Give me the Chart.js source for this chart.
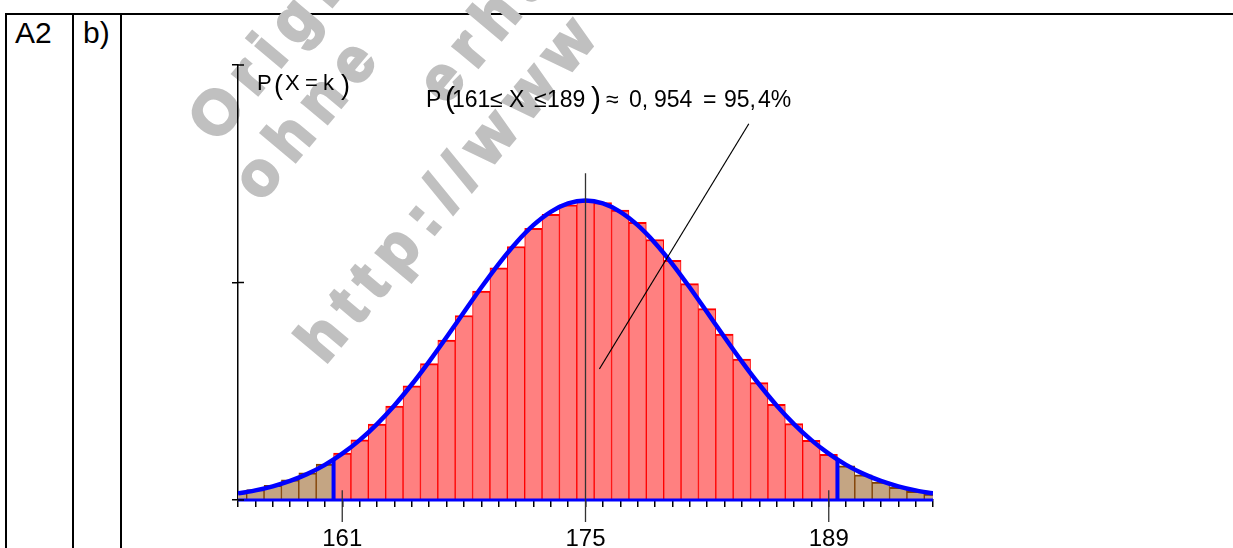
<!DOCTYPE html>
<html>
<head>
<meta charset="utf-8">
<script src="https://cdn.jsdelivr.net/npm/chart.js@4/dist/chart.umd.min.js"></script>
<style>
body { margin: 0; background: #fff; width: 1233px; height: 548px; overflow: hidden; position: relative; font-family: Arial, "Liberation Sans", sans-serif; }
.rule { position: absolute; background: #000; }
.cell { position: absolute; font-size: 30px; line-height: 30px; color: #000; }
.tok { position: absolute; white-space: nowrap; color: #000; }
.wm { position: absolute; white-space: nowrap; color: #c0c0c0; font-weight: bold; letter-spacing: 12px; -webkit-text-stroke: 3px #c0c0c0; }
#chart { position: absolute; left: 0; top: 0; }
</style>
</head>
<body>

<div class="rule" style="left:5px;top:13px;width:1228px;height:2px"></div>
<div class="rule" style="left:5px;top:13px;width:2px;height:535px"></div>
<div class="rule" style="left:72px;top:13px;width:2px;height:535px"></div>
<div class="rule" style="left:120px;top:13px;width:2px;height:535px"></div>
<div class="cell" style="left:15px;top:18px">A2</div>
<div class="cell" style="left:83px;top:18px">b)</div>

<div id="marks"></div>
<canvas id="chart" width="1233" height="548"></canvas>
<div id="labels"></div>

<script>
// binomial distribution, values
const ks = [155, 156, 157, 158, 159, 160, 161, 162, 163, 164, 165, 166, 167, 168, 169, 170, 171, 172, 173, 174,
    175, 176, 177, 178, 179, 180, 181, 182, 183, 184, 185, 186, 187, 188, 189, 190, 191, 192, 193, 194, 195];

const probs = [0.00136, 0.00193, 0.00269, 0.00369, 0.00499, 0.00662, 0.00863, 0.01107, 0.01394, 0.01726,
    0.02099, 0.02508, 0.02943, 0.03393, 0.03841, 0.04270, 0.04662, 0.04996, 0.05256, 0.05427,
    0.05499, 0.05468, 0.05334, 0.05105, 0.04791, 0.04409, 0.03979, 0.03520, 0.03052, 0.02593,
    0.02158, 0.01760, 0.01406, 0.01099, 0.00841, 0.00630, 0.00462, 0.00331, 0.00232, 0.00159, 0.00107];

// bell curve drawn over the bars
const curve = [0.00122, 0.00177, 0.00252, 0.00351, 0.00481, 0.00646, 0.00852, 0.01101, 0.01397, 0.01739,
    0.02124, 0.02546, 0.02993, 0.03453, 0.03908, 0.04340, 0.04728, 0.05054, 0.05300, 0.05454,
    0.05506, 0.05454, 0.05300, 0.05054, 0.04728, 0.04340, 0.03908, 0.03453, 0.02993, 0.02546,
    0.02124, 0.01739, 0.01397, 0.01101, 0.00852, 0.00646, 0.00481, 0.00351, 0.00252, 0.00177, 0.00122];

const lowK = 161;
const highK = 189;
const cutX = [160.5, 189.5];
const cutTop = [0.00744, 0.00744];

const markTicks = [161, 175, 189];
const markTops = [0.0018, 0.0601, 0.0018];
const yTicks = [0, 0.04, 0.08];

const pointerX = [175.8, 184.4];
const pointerY = [0.0241, 0.0692];

const inside = k => k >= lowK && k <= highK;

// text tokens: [text, left, baseline, size]
const labelTokens = [
    ["P", 257, 91, 22], ["(", 274, 95, 27], ["X", 285, 91, 22], ["=", 305, 91, 22], ["k", 323, 91, 22], [")", 341, 95, 27],
    ["P", 426, 107, 23], ["(", 445, 108.7, 30], ["161", 452, 107, 23], ["\u2264", 490, 107, 23], ["X", 509, 107, 23],
    ["\u2264", 534, 107, 23], ["189", 547, 107, 23], [")", 591, 108.7, 30], ["\u2248", 606, 107, 23],
    ["0,", 629, 107, 23], ["954", 654, 107, 23], ["=", 703, 107, 23], ["95,", 724, 107, 23], ["4%", 758, 107, 23]
];

// watermark lines: [text, left, baseline, size]
const watermark = [
    ["Original", 217, 144, 62],
    ["ohne", 261, 203, 62],
    ["erhältlich", 446, 106, 62],
    ["http://www", 325, 365, 62]
];

function placeTokens() {

    const box = document.getElementById("labels");

    labelTokens.forEach(t => {

        const d = document.createElement("div");
        d.className = "tok";
        d.textContent = t[0];
        d.style.fontSize = t[3] + "px";
        d.style.lineHeight = t[3] + "px";
        d.style.left = t[1] + "px";
        d.style.top = (t[2] - 0.8465 * t[3]) + "px";
        box.appendChild(d);

    });

    const marks = document.getElementById("marks");

    watermark.forEach(t => {

        const d = document.createElement("div");
        const asc = 0.8465 * t[3];
        d.className = "wm";
        d.textContent = t[0];
        d.style.fontSize = t[3] + "px";
        d.style.lineHeight = t[3] + "px";
        d.style.left = t[1] + "px";
        d.style.top = (t[2] - asc) + "px";
        d.style.transformOrigin = "0 " + asc + "px";
        d.style.transform = "rotate(-50deg)";
        marks.appendChild(d);

    });

}

placeTokens();

// extra strokes: inner half of the y ticks and the long marker lines
const guides = {

    id: "guides",

    afterDatasetsDraw(chart) {

        const { ctx, chartArea, scales } = chart;
        const x = scales.x;
        const y = scales.y;

        ctx.save();
        ctx.strokeStyle = "#000";
        ctx.lineWidth = 1.5;

        yTicks.forEach(v => {
            const py = y.getPixelForValue(v);
            ctx.beginPath();
            ctx.moveTo(chartArea.left, py);
            ctx.lineTo(chartArea.left + 6, py);
            ctx.stroke();
        });

        ctx.strokeStyle = "#333";
        ctx.lineWidth = 1.3;

        markTicks.forEach((v, i) => {
            const px = x.getPixelForValue(v);
            ctx.beginPath();
            ctx.moveTo(px, y.getPixelForValue(markTops[i]));
            ctx.lineTo(px, chartArea.bottom + 22);
            ctx.stroke();
        });

        ctx.restore();

    }

};

const ctx = document.getElementById("chart").getContext("2d");

new Chart(ctx, {

    type: "bar",

    data: {

        datasets: [

            {
                type: "line",
                data: [{ x: pointerX[0], y: pointerY[0] }, { x: pointerX[1], y: pointerY[1] }],
                borderColor: "#000",
                borderWidth: 1.2,
                pointRadius: 0,
                order: 0
            },

            {
                type: "line",
                data: [{ x: cutX[0], y: 0 }, { x: cutX[0], y: cutTop[0] }],
                borderColor: "#0000ff",
                borderWidth: 4,
                pointRadius: 0,
                order: 1
            },

            {
                type: "line",
                data: [{ x: cutX[1], y: 0 }, { x: cutX[1], y: cutTop[1] }],
                borderColor: "#0000ff",
                borderWidth: 4,
                pointRadius: 0,
                order: 1
            },

            {
                type: "line",
                data: [{ x: ks[0], y: 0 }, { x: ks[ks.length - 1], y: 0 }],
                borderColor: "#0000ff",
                borderWidth: 3,
                pointRadius: 0,
                clip: false,
                order: 1
            },

            {
                type: "line",
                data: ks.map((k, i) => ({ x: k, y: curve[i] })),
                borderColor: "#0000ff",
                borderWidth: 4.5,
                pointRadius: 0,
                cubicInterpolationMode: "monotone",
                order: 2
            },

            {
                type: "bar",
                data: ks.map((k, i) => ({ x: k, y: probs[i] })),
                backgroundColor: c => inside(ks[c.dataIndex]) ? "#ff8080" : "#c4a583",
                borderColor: c => inside(ks[c.dataIndex]) ? "#ff0000" : "#7f3f00",
                borderWidth: { top: 2, left: 1, right: 1, bottom: 0 },
                borderSkipped: false,
                barPercentage: 1,
                categoryPercentage: 1,
                grouped: false,
                clip: 0,
                order: 3
            }

        ]

    },

    options: {

        responsive: false,
        animation: false,
        devicePixelRatio: 1,

        layout: {
            padding: { left: 228, top: 65, right: 300, bottom: 0 }
        },

        plugins: {
            legend: { display: false },
            tooltip: { enabled: false }
        },

        scales: {

            x: {
                type: "linear",
                min: 155,
                max: 195,
                offset: false,
                afterFit: s => { s.height = 48; },
                grid: {
                    offset: false,
                    drawOnChartArea: false,
                    tickLength: 7,
                    color: "#000",
                    lineWidth: 1.5
                },
                border: { color: "#000", width: 1.5 },
                ticks: {
                    stepSize: 1,
                    autoSkip: false,
                    maxRotation: 0,
                    padding: 18,
                    color: "#000",
                    font: { family: "Arial", size: 24 },
                    callback: v => markTicks.includes(v) ? String(v) : ""
                }
            },

            y: {
                min: 0,
                max: 0.08,
                afterFit: s => { s.width = 10; },
                grid: {
                    drawOnChartArea: false,
                    tickLength: 6,
                    color: "#000",
                    lineWidth: 1.5
                },
                border: { color: "#000", width: 1.5 },
                ticks: {
                    display: false,
                    stepSize: 0.04
                }
            }

        }

    },

    plugins: [guides]

});
</script>
</body>
</html>
